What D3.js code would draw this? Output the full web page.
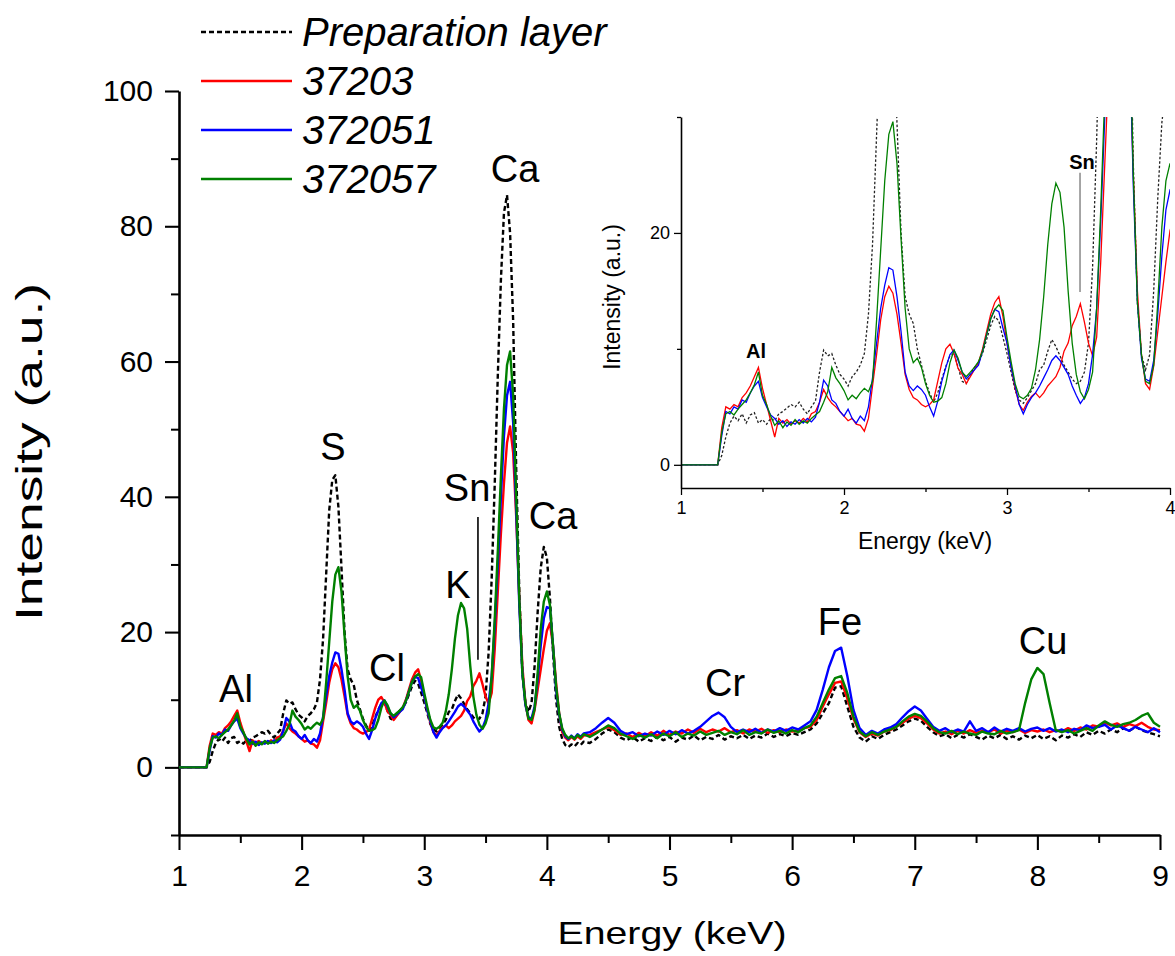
<!DOCTYPE html>
<html>
<head>
<meta charset="utf-8">
<script src="https://cdn.jsdelivr.net/npm/d3@7"></script>
<style>
  body { margin: 0; background: #fff; }
  text { font-family: "Liberation Sans", Arial, Helvetica, sans-serif; }
</style>
</head>
<body>
<div id="chart"></div>
<script>
// XRF spectra, energy in keV
const energy = [
  1.0, 1.225,
  1.25, 1.275, 1.3, 1.325, 1.35, 1.375, 1.4, 1.425, 1.45, 1.475,
  1.5, 1.525, 1.55, 1.575, 1.6, 1.625, 1.65, 1.675, 1.7, 1.725,
  1.75, 1.775, 1.8, 1.825, 1.85, 1.875, 1.9, 1.925, 1.95, 1.975,
  2.0, 2.025, 2.05, 2.075, 2.1, 2.125, 2.15, 2.175, 2.2, 2.225,
  2.25, 2.275, 2.3, 2.325, 2.35, 2.375, 2.4, 2.425, 2.45, 2.475,
  2.5, 2.525, 2.55, 2.575, 2.6, 2.625, 2.65, 2.675, 2.7, 2.725,
  2.75, 2.775, 2.8, 2.825, 2.85, 2.875, 2.9, 2.925, 2.95, 2.975,
  3.0, 3.025, 3.05, 3.075, 3.1, 3.125, 3.15, 3.175, 3.2, 3.225,
  3.25, 3.275, 3.3, 3.325, 3.35, 3.375, 3.4, 3.425, 3.45, 3.475,
  3.5, 3.525, 3.55, 3.575, 3.6, 3.625, 3.65, 3.675, 3.7, 3.725,
  3.75, 3.775, 3.8, 3.825, 3.85, 3.875, 3.9, 3.925, 3.95, 3.975,
  4.0, 4.025, 4.05, 4.075, 4.1, 4.125, 4.15, 4.175, 4.2, 4.225,
  4.25, 4.275, 4.3,
  4.35, 4.4, 4.45, 4.5, 4.55, 4.6, 4.65, 4.7, 4.75, 4.8,
  4.85, 4.9, 4.95, 5.0, 5.05, 5.1, 5.15, 5.2, 5.25, 5.3,
  5.35, 5.4, 5.45, 5.5, 5.55, 5.6, 5.65, 5.7, 5.75, 5.8,
  5.85, 5.9, 5.95, 6.0, 6.05, 6.1, 6.15, 6.2, 6.25, 6.3,
  6.35, 6.4, 6.45, 6.5, 6.55, 6.6, 6.65, 6.7, 6.75, 6.8,
  6.85, 6.9, 6.95, 7.0, 7.05, 7.1, 7.15, 7.2, 7.25, 7.3,
  7.35, 7.4, 7.45, 7.5, 7.55, 7.6, 7.65, 7.7, 7.75, 7.8,
  7.85, 7.9, 7.95, 8.0, 8.05, 8.1, 8.15, 8.2, 8.25, 8.3,
  8.35, 8.4, 8.45, 8.5, 8.55, 8.6, 8.65, 8.7, 8.75, 8.8,
  8.85, 8.9, 8.95, 9.0
];

const prepLayer = [
  0, 0,
  0.8, 2.4, 3.6, 4.2, 3.8, 4.4, 3.6, 4.3, 4.5, 3.6,
  3.9, 3.5, 4.0, 3.8, 4.4, 4.6, 4.9, 5.2, 5.0, 5.4,
  4.8, 4.4, 5.0, 5.5, 8.0, 9.9, 9.4, 9.6, 8.6, 7.8,
  7.4, 6.8, 7.6, 8.0, 8.6, 9.6, 13.0, 19.0, 28.5, 38.0,
  42.5, 43.2, 38.5, 29.5, 20.0, 14.5, 13.0, 12.2, 10.0, 8.6,
  7.2, 6.2, 5.4, 6.2, 7.4, 8.5, 9.4, 9.6, 8.4, 7.2,
  7.0, 7.8, 8.4, 8.8, 9.6, 10.8, 12.0, 12.8, 12.4, 11.0,
  9.6, 8.0, 6.4, 5.6, 5.3, 5.8, 6.4, 7.0, 8.2, 8.6,
  9.8, 10.8, 10.2, 9.4, 8.6, 8.0, 7.4, 7.0, 7.2, 8.0,
  10.5, 17.0, 28.0, 42.0, 58.0, 72.0, 82.0, 84.6, 79.0, 66.0,
  44.0, 26.0, 14.0, 9.5, 8.2, 9.5, 15.0, 23.0, 29.5, 32.6,
  31.0, 25.0, 17.0, 10.0, 6.0, 4.2, 3.3, 3.0, 3.4, 3.1,
  3.6, 3.3, 3.8,
  3.6, 4.2, 5.0, 5.6, 5.2, 4.4, 4.0, 4.5, 3.8, 4.3,
  3.9, 4.6, 4.0, 4.5, 3.8, 4.4, 4.1, 4.7, 4.0, 4.5,
  4.2, 4.8, 4.1, 4.6, 4.3, 4.8, 4.2, 4.7, 4.4, 5.0,
  4.5, 4.9, 4.6, 5.1, 4.8, 5.2, 5.6, 6.5, 8.0, 9.5,
  11.8, 12.0, 9.0, 6.0, 4.4, 3.8, 4.6, 4.2, 4.8, 5.2,
  5.6, 6.2, 6.8, 7.2, 6.9, 6.0, 5.2, 4.6, 4.9, 4.3,
  4.8, 4.4, 4.9, 4.5, 4.1, 4.7, 4.3, 4.8, 4.2, 4.6,
  4.1, 4.7, 4.3, 4.8, 4.2, 4.6, 4.0, 4.7, 4.4, 4.9,
  4.5, 5.2, 4.8, 5.4, 5.0, 5.6, 5.2, 5.8, 5.4, 6.0,
  5.5, 5.2, 4.9, 4.6
];

const s37203 = [
  0, 0,
  3.2, 5.0, 4.8, 5.2, 5.0, 5.8, 6.2, 6.8, 7.6, 8.4,
  6.6, 5.2, 3.8, 2.4, 4.0, 3.6, 3.9, 3.5, 3.8, 3.6,
  4.0, 3.7, 4.4, 4.6, 5.4, 6.5, 5.8, 5.3, 5.0, 4.6,
  4.2, 3.8, 4.0, 3.5, 3.4, 2.9, 4.0, 6.8, 9.5, 12.5,
  14.5, 15.4, 14.8, 13.0, 10.5, 7.8, 6.5, 5.8, 5.6, 5.2,
  5.0, 5.2, 5.6, 7.2, 8.8, 10.0, 10.4, 9.6, 8.3, 7.8,
  7.0, 7.6, 8.2, 8.8, 10.0, 11.5, 13.0, 14.0, 14.5, 12.8,
  10.5, 8.5, 6.6, 5.2, 4.7, 5.4, 5.9, 6.2, 5.8, 6.2,
  6.8, 7.2, 7.6, 8.4, 9.8, 10.5, 12.0, 12.8, 13.9, 12.3,
  10.5, 9.4, 11.0, 17.5, 26.0, 34.5, 42.0, 48.0, 50.4, 46.5,
  37.0, 25.0, 15.0, 9.5, 7.0, 6.5, 8.5, 11.5, 14.5, 17.5,
  20.2, 21.3, 18.0, 12.5, 8.0, 5.2, 4.4, 4.0, 4.5, 4.1,
  4.6, 4.2, 4.7,
  4.8, 5.2, 5.6, 6.0, 5.5, 4.8, 5.0, 4.5, 5.1, 4.6,
  5.2, 4.7, 5.4, 4.8, 5.3, 5.0, 5.6, 5.1, 5.7, 5.2,
  5.6, 5.3, 5.8, 5.2, 5.5, 5.0, 5.6, 5.3, 5.7, 5.1,
  5.5, 5.2, 5.6, 5.3, 5.4, 5.8, 6.0, 7.0, 9.0, 10.8,
  12.5, 12.7, 10.2, 7.2, 5.2, 4.5, 5.0, 4.7, 5.3, 5.5,
  6.0, 6.6, 7.2, 7.6, 7.3, 6.5, 5.6, 5.0, 5.3, 4.9,
  5.4, 5.0, 5.5, 5.1, 5.4, 5.2, 5.6, 5.0, 5.4, 5.2,
  5.6, 5.1, 5.5, 5.3, 5.6, 5.2, 5.5, 5.3, 5.8, 5.4,
  5.9, 5.6, 6.2, 6.0, 6.6, 6.2, 6.5, 6.0, 6.4, 6.1,
  6.6, 6.0, 5.6, 5.5
];

const s372051 = [
  0, 0,
  2.5, 4.6, 4.4, 5.0, 4.8, 5.6, 5.4, 6.2, 6.8, 7.2,
  5.8, 5.0, 4.3, 4.0, 3.5, 3.8, 3.3, 3.7, 3.5, 3.9,
  3.6, 4.0, 3.7, 4.1, 5.4, 7.3, 6.8, 5.6, 5.3, 4.6,
  4.2, 4.8, 4.0, 3.6, 4.2, 3.8, 5.0, 7.5, 10.5, 13.5,
  15.5, 17.0, 16.8, 14.5, 11.5, 8.0, 6.8, 6.4, 6.8, 6.5,
  6.0, 5.0, 4.2, 5.5, 7.2, 8.4, 9.5, 9.9, 9.0, 8.0,
  7.4, 7.8, 8.2, 8.6, 9.8, 11.2, 12.6, 13.4, 13.2, 11.8,
  10.5, 8.4, 6.8, 5.2, 4.4, 5.2, 5.8, 6.2, 6.8, 7.5,
  8.2, 9.0, 9.4, 9.0, 8.4, 7.8, 6.8, 6.0, 5.3, 5.8,
  7.0, 9.5, 13.5, 21.0, 30.0, 40.0, 49.0, 55.0, 57.0, 51.0,
  38.0, 24.0, 14.0, 9.2, 7.4, 7.2, 9.0, 13.0, 18.0, 22.0,
  23.7, 23.5, 18.0, 11.5, 7.8, 5.6, 4.6, 4.2, 4.7, 4.3,
  4.9, 4.5, 5.0,
  5.2, 5.8, 6.6, 7.3, 6.6, 5.4, 4.9, 5.2, 4.6, 5.0,
  4.7, 5.3, 4.8, 5.4, 4.9, 5.5, 5.0, 5.4, 6.0, 6.8,
  7.6, 8.1, 7.4, 6.0, 5.2, 5.6, 5.2, 5.7, 5.1, 5.6,
  5.3, 5.8, 5.4, 5.9, 5.6, 6.2, 6.8, 8.5, 11.5, 14.8,
  17.2, 17.7, 13.5, 8.5, 5.8, 4.8, 5.4, 5.0, 5.6, 5.9,
  6.4, 7.4, 8.3, 9.0, 8.4, 7.2, 6.0, 5.4, 5.8, 5.2,
  5.6, 5.3, 6.8, 5.4, 5.8, 5.2, 5.9, 5.3, 5.7, 5.4,
  5.8, 5.3, 5.7, 5.9, 5.4, 5.8, 5.3, 5.6, 5.2, 5.7,
  5.5, 6.2, 5.8, 6.0, 6.3, 5.6, 6.2, 5.8, 5.4, 6.0,
  5.6, 5.2, 5.8, 5.2
];

const s372057 = [
  0, 0,
  2.8, 4.4, 4.6, 4.3, 4.8, 5.2, 5.6, 6.2, 6.9, 8.0,
  6.0, 5.2, 4.2, 3.4, 3.8, 3.2, 3.7, 3.4, 3.9, 3.5,
  3.8, 3.6, 4.0, 4.3, 4.6, 5.4, 6.3, 8.4, 7.5, 7.0,
  6.4, 5.6, 6.0, 5.7, 6.2, 6.6, 6.3, 7.2, 12.5, 18.5,
  24.5, 28.5, 29.6, 26.0, 19.5, 13.5, 10.0, 8.8, 9.2, 8.4,
  7.0, 6.0, 5.4, 5.5, 5.8, 7.0, 8.8, 9.9, 9.2, 8.0,
  7.6, 8.0, 8.4, 8.9, 9.8, 11.2, 12.6, 13.4, 13.8, 13.3,
  11.0, 8.9, 7.0, 5.9, 5.7, 6.0, 6.6, 8.2, 10.8, 14.5,
  19.0, 22.5, 24.3, 23.5, 20.5, 15.0, 10.5, 7.8, 6.3, 5.7,
  6.5, 8.0, 13.5, 22.0, 32.0, 43.0, 53.0, 59.5, 61.5, 55.0,
  40.0, 25.0, 14.0, 9.5, 7.2, 7.0, 8.6, 14.0, 20.5, 24.5,
  26.0, 24.0, 18.0, 12.0, 8.0, 5.8, 4.8, 4.3, 4.6, 4.2,
  4.8, 4.4, 4.9,
  4.5, 5.0, 5.6, 6.2, 5.8, 5.0, 4.6, 4.2, 4.8, 4.4,
  4.9, 4.3, 5.0, 4.6, 5.2, 4.5, 5.0, 4.7, 5.3, 4.8,
  5.1, 5.4, 4.8, 5.2, 4.9, 5.5, 4.8, 5.2, 5.0, 5.6,
  5.1, 5.4, 5.0, 5.5, 5.2, 5.8, 6.2, 7.5, 9.5, 11.5,
  13.2, 13.5, 11.0, 7.5, 5.3, 4.6, 5.2, 4.8, 5.3, 5.6,
  6.0, 6.8, 7.5, 7.9, 7.6, 6.8, 5.8, 5.2, 5.0, 5.4,
  4.9, 5.3, 5.0, 4.8, 5.3, 5.0, 4.9, 5.4, 5.0, 5.2,
  5.5, 9.5, 13.0, 14.7, 13.8, 9.5, 5.5, 5.2, 5.5, 5.0,
  5.4, 5.8, 5.4, 6.2, 6.8, 6.3, 6.0, 6.4, 6.6, 7.0,
  7.6, 8.0, 6.6, 6.0
];

const seriesNames = ["Preparation layer", "37203", "372051", "372057"];
const seriesValues = [prepLayer, s37203, s372051, s372057];
const seriesColors = ["#000000", "#ff0000", "#0000ff", "#008000"];

const xTicks = [1, 2, 3, 4, 5, 6, 7, 8, 9];
const xMinor = [1.5, 2.5, 3.5, 4.5, 5.5, 6.5, 7.5, 8.5];
const yTicks = [0, 20, 40, 60, 80, 100];
const yMinor = [-10, 10, 30, 50, 70, 90];

const insetXTicks = [1, 2, 3, 4];
const insetXMinor = [1.5, 2.5, 3.5];
const insetYTicks = [0, 20];
const insetYMinor = [10, 30];

// element labels, placed in data coordinates (keV, intensity at baseline)
const peakLabels = [
  {name: "Al", at: [1.465, 9.7]},
  {name: "S",  at: [2.256, 45.4]},
  {name: "Cl", at: [2.696, 12.8]},
  {name: "K",  at: [3.275, 25.1]},
  {name: "Sn", at: [3.349, 39.4]},
  {name: "Ca", at: [3.740, 86.5]},
  {name: "Ca", at: [4.050, 35.3]},
  {name: "Cr", at: [5.453, 10.6]},
  {name: "Fe", at: [6.390, 19.6]},
  {name: "Cu", at: [8.046, 16.8]}
];
const snMarker = {e: 3.438, from: 37.0, to: 15.9};
const insetLabels = [
  {name: "Al", at: [1.46, 9.2]},
  {name: "Sn", at: [3.46, 25.5]}
];
const insetSnMarker = {e: 3.448, from: 25.2, to: 14.9};

const width = 1175;
const height = 956;

const svg = d3.select("#chart")
  .append("svg")
  .attr("width", width)
  .attr("height", height);

const x = d3.scaleLinear().domain([1, 9]).range([179, 1160]);
const y = d3.scaleLinear().domain([-10, 100]).range([835, 91]);

const rows = seriesValues.map(vals => energy.map((e, i) => [e, vals[i]]).filter(d => d[1] !== undefined));

// main axes
const styleAxis = (g, fs, lw) => {
  g.select(".domain").attr("stroke-width", lw);
  g.selectAll(".tick line").attr("stroke-width", lw * 0.8);
  g.selectAll(".tick text").style("font-size", fs + "px").attr("fill", "#000");
};

svg.append("g")
  .attr("transform", "translate(0,835)")
  .call(d3.axisBottom(x).tickValues(xMinor).tickSize(8).tickSizeOuter(0).tickFormat(""))
  .call(g => g.select(".domain").remove())
  .selectAll("line").attr("stroke-width", 2);
svg.append("g")
  .attr("transform", "translate(179,0)")
  .call(d3.axisLeft(y).tickValues(yMinor).tickSize(8).tickSizeOuter(0).tickFormat(""))
  .call(g => g.select(".domain").remove())
  .selectAll("line").attr("stroke-width", 2);

svg.append("g")
  .attr("transform", "translate(0,835)")
  .call(d3.axisBottom(x).tickValues(xTicks).tickSize(15).tickPadding(15).tickSizeOuter(0).tickFormat(d3.format("d")))
  .call(g => styleAxis(g, 30, 2.6));
svg.append("g")
  .attr("transform", "translate(179,0)")
  .call(d3.axisLeft(y).tickValues(yTicks).tickSize(14).tickPadding(12).tickSizeOuter(0).tickFormat(d3.format("d")))
  .call(g => styleAxis(g, 30, 2.6));

svg.append("text")
  .attr("x", 672).attr("y", 944)
  .attr("text-anchor", "middle")
  .attr("textLength", 229).attr("lengthAdjust", "spacingAndGlyphs")
  .style("font-size", "32px")
  .text("Energy (keV)");
svg.append("text")
  .attr("transform", "translate(42,452) rotate(-90)")
  .attr("text-anchor", "middle")
  .attr("textLength", 338).attr("lengthAdjust", "spacingAndGlyphs")
  .style("font-size", "37px")
  .text("Intensity (a.u.)");

// spectra
const line = d3.line().x(d => x(d[0])).y(d => y(d[1]));
rows.forEach((r, i) => {
  svg.append("path")
    .datum(r)
    .attr("fill", "none")
    .attr("stroke", seriesColors[i])
    .attr("stroke-width", 2.4)
    .attr("stroke-linejoin", "round")
    .attr("stroke-dasharray", i === 0 ? "5,3" : null)
    .attr("d", line);
});

// peak labels
svg.selectAll("text.peak")
  .data(peakLabels)
  .enter().append("text")
  .attr("class", "peak")
  .attr("x", d => x(d.at[0]))
  .attr("y", d => y(d.at[1]))
  .attr("text-anchor", "middle")
  .style("font-size", "38px")
  .text(d => d.name);
svg.append("line")
  .attr("x1", x(snMarker.e)).attr("x2", x(snMarker.e))
  .attr("y1", y(snMarker.from)).attr("y2", y(snMarker.to))
  .attr("stroke", "#000").attr("stroke-width", 1.6);

// legend
const legendY = [32, 81, 130, 179];
seriesNames.forEach((name, i) => {
  svg.append("line")
    .attr("x1", 201).attr("x2", 292)
    .attr("y1", legendY[i]).attr("y2", legendY[i])
    .attr("stroke", seriesColors[i])
    .attr("stroke-width", 2.4)
    .attr("stroke-dasharray", i === 0 ? "5,3" : null);
  svg.append("text")
    .attr("x", 302).attr("y", legendY[i] + 14)
    .style("font-size", "40px")
    .style("font-style", "italic")
    .text(name);
});

// inset: zoom on 1-4 keV
const xi = d3.scaleLinear().domain([1, 4]).range([681, 1170]);
const yi = d3.scaleLinear().domain([-2, 30]).range([488, 117]);

svg.append("clipPath").attr("id", "insetClip")
  .append("rect")
  .attr("x", 681).attr("y", 117)
  .attr("width", 1170 - 681).attr("height", 488 - 117);

const insetLine = d3.line().x(d => xi(d[0])).y(d => yi(d[1]));
const inset = svg.append("g").attr("clip-path", "url(#insetClip)");
rows.forEach((r, i) => {
  inset.append("path")
    .datum(r.filter(d => d[0] <= 4.3))
    .attr("fill", "none")
    .attr("stroke", i === 0 ? "#222" : seriesColors[i])
    .attr("stroke-width", 1.3)
    .attr("stroke-dasharray", i === 0 ? "2.5,2" : null)
    .attr("d", insetLine);
});

svg.append("g")
  .attr("transform", "translate(0,488)")
  .call(d3.axisBottom(xi).tickValues(insetXMinor).tickSize(4).tickSizeOuter(0).tickFormat(""))
  .call(g => g.select(".domain").remove())
  .selectAll("line").attr("stroke-width", 1.3);
svg.append("g")
  .attr("transform", "translate(681,0)")
  .call(d3.axisLeft(yi).tickValues(insetYMinor).tickSize(4).tickSizeOuter(0).tickFormat(""))
  .call(g => g.select(".domain").remove())
  .selectAll("line").attr("stroke-width", 1.3);
svg.append("g")
  .attr("transform", "translate(0,488)")
  .call(d3.axisBottom(xi).tickValues(insetXTicks).tickSize(7).tickPadding(6).tickSizeOuter(0).tickFormat(d3.format("d")))
  .call(g => styleAxis(g, 18, 1.6));
svg.append("g")
  .attr("transform", "translate(681,0)")
  .call(d3.axisLeft(yi).tickValues(insetYTicks).tickSize(7).tickPadding(4).tickSizeOuter(0).tickFormat(d3.format("d")))
  .call(g => styleAxis(g, 18, 1.6));

svg.append("text")
  .attr("x", 925).attr("y", 549)
  .attr("text-anchor", "middle")
  .style("font-size", "23px")
  .text("Energy (keV)");
svg.append("text")
  .attr("transform", "translate(620,297) rotate(-90)")
  .attr("text-anchor", "middle")
  .style("font-size", "23px")
  .text("Intensity (a.u.)");

svg.selectAll("text.insetPeak")
  .data(insetLabels)
  .enter().append("text")
  .attr("class", "insetPeak")
  .attr("x", d => xi(d.at[0]))
  .attr("y", d => yi(d.at[1]))
  .attr("text-anchor", "middle")
  .style("font-size", "20px")
  .style("font-weight", "bold")
  .text(d => d.name);
svg.append("line")
  .attr("x1", xi(insetSnMarker.e)).attr("x2", xi(insetSnMarker.e))
  .attr("y1", yi(insetSnMarker.from)).attr("y2", yi(insetSnMarker.to))
  .attr("stroke", "#888").attr("stroke-width", 1.5);
</script>
</body>
</html>
